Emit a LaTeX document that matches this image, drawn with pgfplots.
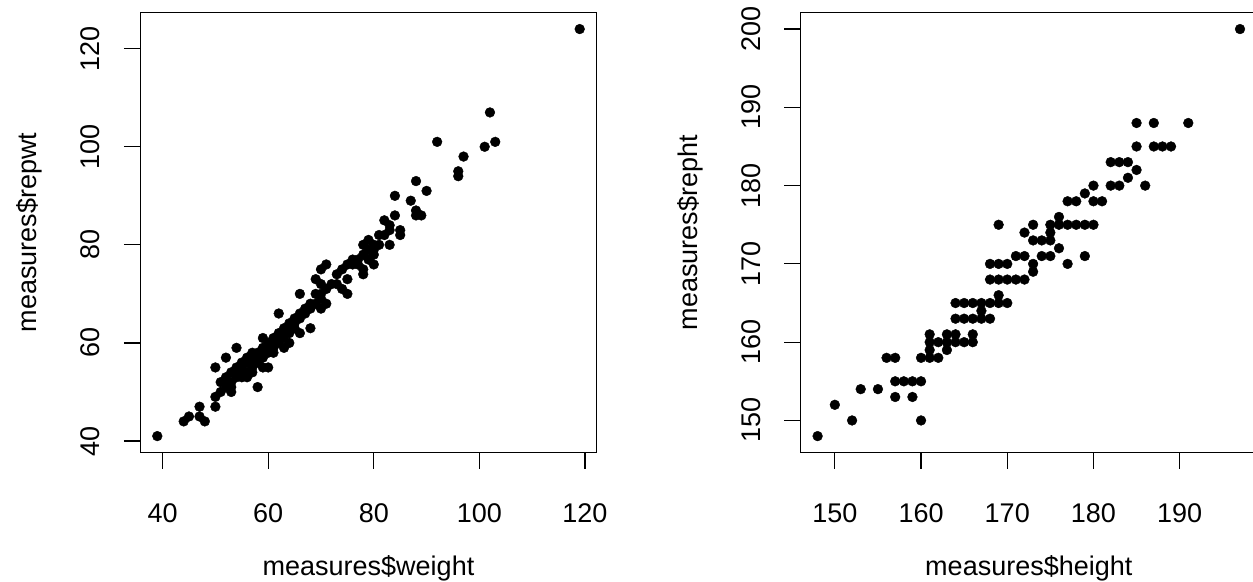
\documentclass[border=0pt]{standalone}
\usepackage{fontspec}
\setmainfont{Liberation Sans}
\usepackage{pgfplots}
\pgfplotsset{compat=1.18}

\pgfplotsset{
  rbase/.style={
    scale only axis,
    width=228.1pt, height=219.8pt,
    anchor=south west,
    axis line style={line width=0.6pt},
    every tick/.style={black, line width=0.6pt},
    tick align=outside,
    xtick pos=bottom, ytick pos=left,
    major tick length=8.3pt,
    /pgf/number format/assume math mode=true,
    tick label style={font=\fontsize{13.5}{16}\selectfont, inner sep=0pt},
    label style={font=\fontsize{13.5}{16}\selectfont, inner sep=0pt},
    xticklabel style={anchor=base},
    yticklabel style={rotate=90, anchor=base},
    xticklabel shift=26.9pt,
    yticklabel shift=11.9pt,
    xlabel style={at={(axis description cs:0.5,0)}, anchor=base, yshift=-61.8pt},
    ylabel style={at={(axis description cs:0,0.5)}, anchor=base, yshift=51.7pt},
    clip=false,
  },
  rpts/.style={only marks, mark=*, mark size=2.45pt, black, mark options={fill=black, draw=black, line width=0.2pt}},
}

\begin{document}
\begin{tikzpicture}
\begin{axis}[rbase, at={(70.2pt,64.8pt)},
  xmin=35.8, xmax=122.2, ymin=37.68, ymax=127.32,
  xtick={40,60,80,100,120}, ytick={40,60,80,100,120},
  xlabel={measures\$weight}, ylabel={measures\$repwt}]
\addplot[rpts] coordinates {
(39,41) (44,44) (45,45) (47,47) (47,45) (48,44) (50,47) (50,49) (50,55)
(52,57) (54,59) (58,51) (60,55) (59,55) (63,59) (62,66) (66,70) (68,63)
(69,73) (70,75) (71,76) (73,74) (71,71) (71,68) (70,67) (70,72) (75,73)
(75,70) (74,71) (76,77) (77,77) (78,75) (80,76) (78,74) (79,81) (78,80)
(80,80) (79,79) (80,78) (78,78) (83,80) (81,82) (85,82) (85,83) (83,83)
(83,84) (82,85) (84,86) (88,86) (89,86) (88,87) (87,89) (84,90) (90,91)
(88,93) (96,94) (96,95) (97,98) (101,100) (103,101) (92,101) (102,107)
(119,124)
(51,50) (51,52) (52,51) (52,53) (52,52) (53,52) (53,54) (53,51) (54,53)
(54,55) (54,54) (55,54) (55,56) (55,55) (56,54) (56,56) (56,57) (57,55)
(57,57) (57,56) (58,57) (58,58) (58,56) (59,57) (59,59) (59,58) (60,58)
(60,60) (60,59) (61,60) (61,61) (61,59) (62,61) (62,62) (62,60) (63,62)
(63,63) (63,61) (64,62) (64,64) (64,63) (65,64) (65,65) (65,63) (66,65)
(66,66) (67,66) (67,67) (68,67) (68,68) (69,68) (69,70) (70,69) (70,70)
(72,72) (73,72) (74,75) (75,76) (76,76) (77,76) (79,77) (80,79) (81,80)
(82,82) (53,50) (55,53) (57,54) (64,60) (66,62)
(59,61) (61,58) (57,58) (56,53)
};
\end{axis}

\begin{axis}[rbase, at={(400.35pt,64.8pt)},
  xmin=146.04, xmax=198.96, ymin=145.92, ymax=202.08,
  xtick={150,160,170,180,190}, ytick={150,160,170,180,190,200},
  xlabel={measures\$height}, ylabel={measures\$repht}]
\addplot[rpts] coordinates {
(148,148) (150,152) (152,150) (153,154) (155,154) (156,158) (157,158)
(157,155) (158,155) (159,155) (160,155) (157,153) (159,153) (160,150)
(160,158) (161,158) (162,158) (161,159) (163,159) (161,160) (162,160)
(163,160) (164,160) (165,160) (166,160) (161,161) (163,161) (164,161)
(166,161) (164,163) (165,163) (166,163) (167,163) (168,163) (167,164)
(164,165) (165,165) (166,165) (167,165) (168,165) (169,165) (170,165)
(169,166) (168,168) (169,168) (170,168) (171,168) (172,168) (173,169)
(168,170) (169,170) (170,170) (173,170) (177,170) (171,171) (172,171)
(174,171) (175,171) (179,171) (176,172) (173,173) (174,173) (175,173)
(172,174) (175,174) (169,175) (173,175) (175,175) (176,175) (177,175)
(178,175) (179,175) (180,175) (176,176) (177,178) (178,178) (180,178)
(181,178) (179,179) (180,180) (182,180) (183,180) (186,180) (184,181)
(185,182) (182,183) (183,183) (184,183) (185,185) (187,185) (188,185)
(189,185) (185,188) (187,188) (191,188) (197,200)
};
\end{axis}
\pgfresetboundingbox
\useasboundingbox (0,0) rectangle (626.5pt,291pt);
\end{tikzpicture}
\end{document}
